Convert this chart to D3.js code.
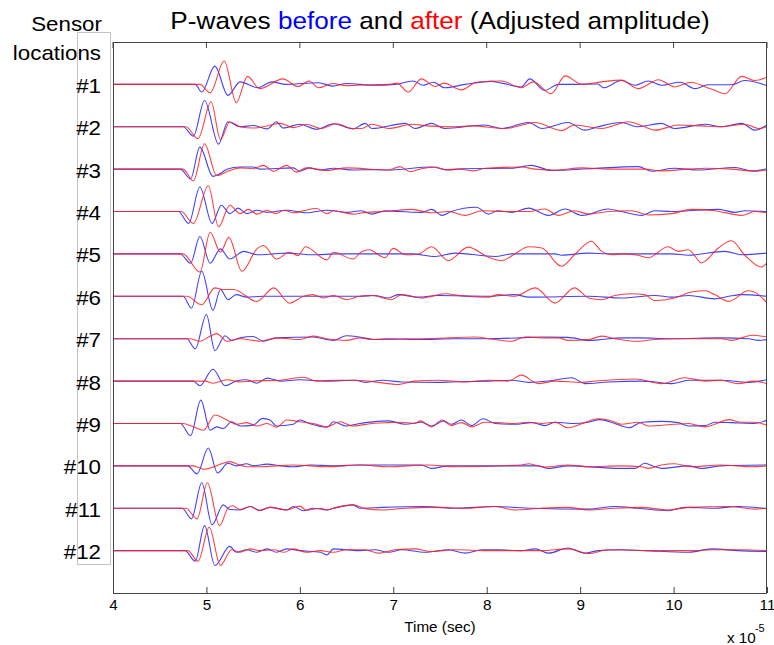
<!DOCTYPE html>
<html>
<head>
<meta charset="utf-8">
<script src="https://cdn.jsdelivr.net/npm/d3@7"></script>
<style>
  body { margin: 0; background: #fff; }
  text { font-family: "Liberation Sans", Arial, Helvetica, sans-serif; fill: #000; }
</style>
</head>
<body>
<div id="chart"></div>
<script>
// sensor names, top to bottom
const sensorLabels = ["#1", "#2", "#3", "#4", "#5", "#6", "#7", "#8", "#9", "#10", "#11", "#12"];
const xTicks = [4, 5, 6, 7, 8, 9, 10, 11];

// [time (x 1e-5 s), amplitude (1 = trace spacing)]
const beforeWaves = [
  [[4,0],[4.88,0],[4.95,-0.18],[5.09,0.43],[5.23,-0.26],[5.36,0.06],[5.55,-0.08],[5.70,0.06],[5.85,0],[6.20,0.04],[6.35,-0.04],[6.50,0.02],[6.77,-0.02],[7.02,0],[7.21,0.08],[7.32,-0.02],[7.43,0.05],[7.55,-0.08],[7.77,0],[8.05,0.07],[8.16,0.03],[8.37,-0.06],[8.46,0.13],[8.62,-0.14],[8.77,0],[8.91,0],[9.19,0.01],[9.25,-0.08],[9.44,0.09],[9.59,-0.02],[9.73,0.08],[9.87,-0.02],[10.07,0.05],[10.23,-0.1],[10.37,-0.01],[10.62,-0.01],[10.76,0.09],[11.0,-0.03]],
  [[4,0],[4.75,0],[4.86,-0.22],[4.98,0.62],[5.13,-0.41],[5.23,0.12],[5.36,0],[5.50,0.03],[5.65,-0.05],[5.75,0.12],[5.82,-0.03],[6.00,0.06],[6.18,-0.06],[6.36,0.07],[6.57,-0.05],[6.70,0.08],[6.77,-0.04],[7.13,0.08],[7.23,-0.04],[7.41,0.08],[7.55,-0.04],[7.98,0.04],[8.16,-0.04],[8.45,0.1],[8.59,-0.04],[8.87,0.1],[9.05,-0.08],[9.19,0],[9.44,0.1],[9.62,0],[9.87,0.08],[10.01,-0.04],[10.34,0.06],[10.51,0],[10.73,0.08],[10.87,-0.08],[11.0,0.04]],
  [[4,0],[4.72,0],[4.83,-0.23],[4.93,0.52],[5.07,-0.17],[5.15,-0.1],[5.22,0],[5.36,0.05],[5.50,0.05],[5.57,0],[5.93,0.03],[6.00,-0.05],[6.10,0.03],[6.22,-0.02],[6.36,0.02],[6.57,-0.02],[6.77,-0.01],[6.95,-0.02],[7.41,0.05],[7.59,-0.02],[7.73,0.01],[8.27,0.02],[8.48,0.09],[8.69,-0.03],[9.09,0.01],[9.62,0.06],[9.77,-0.05],[10.01,0.02],[10.26,-0.02],[10.66,0.04],[10.84,-0.04],[11.0,0.01]],
  [[4,0],[4.70,0],[4.81,-0.28],[4.93,0.58],[5.06,-0.28],[5.16,0.15],[5.25,-0.05],[5.34,0.08],[5.43,-0.05],[5.54,0.03],[5.65,-0.02],[5.86,0.03],[6.07,-0.03],[6.29,0.03],[6.50,-0.02],[6.66,0.02],[6.77,-0.06],[6.91,0.02],[7.05,0],[7.30,-0.02],[7.41,0.05],[7.52,-0.09],[7.62,0],[7.89,0.1],[8.02,-0.06],[8.12,0.02],[8.27,-0.02],[8.45,0.08],[8.66,-0.09],[8.84,0.06],[9.02,-0.09],[9.30,0.06],[9.44,0],[9.66,-0.09],[9.80,0.02],[9.98,0],[10.16,0.02],[10.48,0.05],[10.66,-0.02],[10.76,0.02],[11.0,0]],
  [[4,0],[4.72,0],[4.83,-0.22],[4.93,0.41],[5.04,-0.22],[5.15,0.12],[5.25,-0.12],[5.40,0.06],[5.54,-0.02],[5.72,0],[5.86,0.02],[6.14,-0.02],[6.40,0],[7.20,0],[7.45,-0.06],[7.66,0.02],[8.09,-0.06],[8.27,0],[8.73,0],[8.80,-0.03],[9.09,0.02],[9.30,0],[9.98,0],[10.16,-0.03],[10.55,0.06],[10.73,-0.02],[11.0,0.02]],
  [[4,0],[4.75,0],[4.84,-0.28],[4.95,0.59],[5.07,-0.33],[5.15,0.16],[5.23,-0.08],[5.32,0.04],[5.43,-0.02],[5.60,0],[6.64,0],[6.80,0.02],[6.95,-0.04],[7.05,0.04],[7.27,-0.02],[7.48,0.02],[8.02,0],[8.30,0.04],[8.45,-0.02],[9.09,0],[9.44,-0.04],[9.80,0.02],[9.98,-0.02],[10.16,0.02],[10.44,-0.06],[10.59,0],[10.73,0.04],[11.0,0]],
  [[4,0],[4.79,0],[4.88,-0.24],[5.00,0.57],[5.09,-0.28],[5.20,0.07],[5.27,-0.04],[5.36,0.02],[5.50,0.05],[5.61,-0.06],[5.75,0.02],[6.14,0.04],[6.36,-0.04],[6.50,0.07],[6.64,0.04],[6.80,-0.02],[6.95,0],[7.30,-0.02],[7.66,0],[8.02,0],[8.45,0.03],[8.59,0.04],[8.87,0.03],[9.09,-0.04],[9.23,-0.02],[9.44,0.02],[9.62,0.02],[9.98,0],[10.51,0.02],[10.80,0],[10.91,-0.04],[11.0,-0.02]],
  [[4,0],[4.86,0],[4.93,-0.11],[5.07,0.28],[5.20,-0.11],[5.32,0],[5.43,0.03],[5.54,-0.05],[5.65,0.07],[5.79,0],[6.00,0.03],[6.29,0],[6.59,0.02],[6.70,-0.03],[6.88,0.02],[7.09,-0.02],[7.48,-0.03],[7.62,-0.02],[8.02,0],[8.27,0.02],[8.45,-0.03],[8.66,0],[8.91,0.08],[9.05,-0.06],[9.30,-0.02],[9.66,0],[9.80,-0.02],[9.98,-0.06],[10.16,0.02],[10.51,0.02],[10.80,-0.03],[11.0,0.03]],
  [[4,0],[4.72,0],[4.83,-0.29],[4.94,0.55],[5.04,-0.16],[5.11,-0.08],[5.18,-0.12],[5.27,0.04],[5.36,-0.06],[5.50,-0.04],[5.60,0.12],[5.68,0.08],[5.75,-0.06],[5.93,-0.02],[6.00,0.08],[6.10,0],[6.29,-0.09],[6.36,0.04],[6.50,-0.06],[6.64,0],[6.70,0.02],[6.95,0.06],[7.13,-0.02],[7.30,0.03],[7.41,-0.06],[7.54,0.06],[7.62,-0.02],[7.73,0.08],[7.84,-0.05],[7.96,0.11],[8.09,0],[8.30,-0.02],[8.48,0.02],[8.62,-0.05],[8.73,0.03],[8.91,0],[9.09,0.03],[9.21,0.09],[9.37,0],[9.52,-0.1],[9.66,0.03],[9.87,0.05],[10.05,0.02],[10.16,-0.06],[10.34,-0.05],[10.44,0.03],[10.62,0.02],[10.87,0],[11.0,0.08]],
  [[4,0],[4.80,0],[4.90,-0.19],[5.02,0.42],[5.12,-0.17],[5.23,0.06],[5.32,0],[5.43,0.05],[5.50,0],[5.65,0.04],[5.79,0],[5.93,-0.02],[6.11,0.02],[6.36,0],[6.64,0.02],[7.30,0.02],[7.41,-0.06],[7.59,0],[8.55,0],[8.66,-0.06],[8.87,0],[9.44,-0.06],[9.59,-0.06],[9.69,0.06],[9.80,-0.02],[9.87,-0.06],[10.16,0],[10.30,-0.06],[10.51,0],[11.0,0.02]],
  [[4,0],[4.74,0],[4.84,-0.25],[4.95,0.6],[5.06,-0.39],[5.18,0.08],[5.25,-0.03],[5.36,-0.04],[5.47,0.04],[5.57,-0.05],[5.68,0.02],[5.86,-0.04],[5.93,0.04],[6.04,-0.06],[6.14,0],[6.29,-0.04],[6.36,0],[6.57,0.08],[6.64,0],[6.88,0.02],[7.34,0.04],[7.66,0],[8.09,0.04],[8.48,0],[9.09,-0.02],[9.37,0.04],[9.62,0],[9.94,-0.06],[10.12,0.02],[10.44,0],[10.69,0.04],[11.0,-0.01]],
  [[4,0],[4.77,0],[4.88,-0.25],[4.98,0.59],[5.09,-0.35],[5.25,0.1],[5.32,-0.04],[5.43,0.02],[5.54,-0.04],[5.65,0.04],[5.75,-0.04],[5.86,0.04],[6.00,0],[6.22,-0.04],[6.29,-0.1],[6.36,0.04],[6.50,0.02],[6.64,0],[6.80,0.02],[6.95,-0.04],[7.09,0.02],[7.34,-0.04],[7.59,0.02],[7.77,-0.06],[7.95,0.02],[8.12,0.02],[8.37,0],[8.52,0.04],[8.66,-0.06],[8.87,0.06],[9.05,-0.06],[9.19,0],[9.44,0.02],[9.69,0],[10.16,-0.04],[10.41,0.04],[10.69,0],[11.0,-0.02]]
];

const afterWaves = [
  [[4,0],[4.93,0],[5.04,-0.2],[5.19,0.55],[5.32,-0.43],[5.44,0.19],[5.57,-0.1],[5.82,0.13],[5.98,-0.05],[6.10,0.08],[6.20,-0.08],[6.35,0.02],[6.50,-0.03],[6.70,-0.01],[6.95,0],[7.04,0.03],[7.16,-0.18],[7.30,0.13],[7.45,-0.05],[7.54,0.03],[7.73,-0.13],[7.89,0.05],[8.16,0.08],[8.37,-0.08],[8.50,0.06],[8.69,-0.22],[8.84,0.2],[9.02,0],[9.23,0.06],[9.44,0.1],[9.62,-0.1],[9.84,0.11],[10.01,-0.06],[10.19,0.05],[10.34,-0.06],[10.44,-0.14],[10.55,-0.22],[10.73,0.19],[10.87,0.09],[11.0,0.17]],
  [[4,0],[4.78,0],[4.91,-0.28],[5.05,0.59],[5.15,-0.3],[5.25,0.12],[5.36,0],[5.50,-0.03],[5.65,0.02],[5.79,0.08],[5.93,-0.02],[6.07,0.06],[6.22,-0.04],[6.39,0.07],[6.57,-0.04],[6.66,-0.04],[6.77,0.06],[6.95,-0.04],[7.20,0.06],[7.37,0.02],[7.66,0],[7.84,0.02],[8.20,-0.04],[8.52,0.1],[8.80,-0.09],[8.94,0.04],[9.23,-0.04],[9.52,0.12],[9.69,0],[9.80,-0.08],[10.05,0.04],[10.30,0.02],[10.51,0],[10.76,0.06],[10.91,-0.04],[11.0,0]],
  [[4,0],[4.75,0],[4.86,-0.28],[4.98,0.6],[5.11,-0.15],[5.25,-0.03],[5.36,0.03],[5.50,0.01],[5.61,0.09],[5.72,-0.05],[5.86,0.09],[5.96,-0.07],[6.07,0.03],[6.29,-0.03],[6.50,0.03],[6.95,-0.02],[7.07,0.06],[7.18,-0.06],[7.30,0.01],[7.45,0.05],[7.55,-0.01],[7.70,0],[7.87,-0.04],[7.98,0.02],[8.37,0.05],[8.52,0],[8.73,-0.02],[9.02,0.03],[9.30,0],[9.69,0],[9.87,-0.04],[10.16,0],[10.34,0.02],[10.62,0],[10.87,-0.05],[11.0,-0.02]],
  [[4,0],[4.73,0],[4.86,-0.28],[5.02,0.61],[5.13,-0.36],[5.25,0.15],[5.36,-0.05],[5.45,0.05],[5.54,-0.06],[5.65,0.03],[5.74,-0.05],[5.83,0.03],[5.93,-0.03],[6.04,0.02],[6.18,0.07],[6.29,-0.05],[6.36,0.02],[6.57,-0.06],[6.70,-0.02],[6.91,0],[7.20,0.05],[7.41,-0.03],[7.59,0],[7.77,-0.09],[7.95,0.02],[8.20,0],[8.45,0],[8.62,0.06],[8.77,-0.09],[8.94,0.02],[9.09,-0.06],[9.30,0],[9.55,0.02],[9.73,-0.08],[9.98,-0.05],[10.19,0.05],[10.44,0.02],[10.73,-0.09],[10.87,0],[11.0,-0.03]],
  [[4,0],[4.75,0],[4.93,-0.43],[5.04,0.51],[5.15,0.04],[5.24,0.39],[5.38,-0.41],[5.54,0.12],[5.61,0.2],[5.75,-0.12],[5.89,0.04],[5.98,-0.04],[6.06,0.17],[6.29,-0.14],[6.36,0.04],[6.57,-0.12],[6.66,0.05],[6.75,0.1],[6.84,-0.02],[6.91,-0.09],[7.00,0.13],[7.13,-0.02],[7.27,0],[7.41,0.17],[7.59,-0.16],[7.80,0.16],[8.02,-0.08],[8.16,-0.16],[8.30,0],[8.45,0.17],[8.59,0.14],[8.80,-0.29],[8.94,-0.02],[9.12,0.3],[9.23,0.06],[9.34,-0.02],[9.44,0],[9.62,-0.03],[9.73,-0.09],[9.94,0.17],[10.05,0.06],[10.16,0.1],[10.30,-0.21],[10.48,0.14],[10.62,0.31],[10.76,-0.02],[10.94,-0.31],[11.0,-0.21]],
  [[4,0],[4.79,0],[4.95,-0.2],[5.09,0.2],[5.18,0.16],[5.29,0.16],[5.54,-0.12],[5.72,0.2],[5.89,-0.16],[6.04,0],[6.14,0.04],[6.25,-0.04],[6.36,0.02],[6.50,-0.08],[6.64,0],[6.77,0.02],[6.98,-0.08],[7.09,0.04],[7.30,-0.04],[7.55,0.06],[7.77,0],[8.02,-0.02],[8.12,0.04],[8.30,0],[8.52,0.2],[8.73,-0.16],[8.94,0.2],[9.09,-0.04],[9.23,-0.08],[9.37,0.02],[9.55,0.06],[9.69,0.04],[9.80,-0.1],[10.01,-0.04],[10.19,0.1],[10.34,0.13],[10.44,0.04],[10.59,-0.12],[10.80,0.13],[10.91,0.04],[11.0,-0.16]],
  [[4,0],[4.82,0],[4.93,-0.06],[5.04,0.06],[5.11,0.12],[5.22,-0.06],[5.36,0],[5.50,-0.04],[5.57,-0.06],[5.75,0.02],[6.00,-0.02],[6.14,0.06],[6.29,0],[6.50,-0.04],[6.64,0.02],[6.77,-0.02],[7.30,0],[7.59,0.02],[7.87,0.04],[8.09,-0.02],[8.27,-0.06],[8.41,0.04],[8.59,0.02],[8.77,0.02],[8.87,-0.04],[9.09,-0.02],[9.23,0.06],[9.37,0],[9.62,-0.06],[9.80,-0.02],[10.01,0],[10.51,0],[10.62,-0.04],[10.84,0.08],[11.0,0.04]],
  [[4,0],[4.99,0],[5.07,-0.05],[5.22,0.03],[5.36,-0.02],[5.47,0],[5.79,0.02],[6.04,0.09],[6.18,0],[6.40,0.02],[6.59,0.02],[6.73,0],[7.05,-0.08],[7.23,0],[7.48,0.02],[7.77,-0.02],[8.02,0.02],[8.23,0],[8.37,0.14],[8.55,-0.06],[8.73,0],[9.02,-0.03],[9.16,0],[9.59,0.05],[9.87,-0.06],[10.12,0.08],[10.34,0],[10.51,0.02],[10.69,-0.06],[10.87,0],[11.0,-0.06]],
  [[4,0],[4.75,0],[4.86,-0.08],[4.97,-0.16],[5.09,0.2],[5.22,0.08],[5.32,-0.02],[5.43,0.02],[5.54,-0.06],[5.65,0],[5.75,-0.09],[5.86,0.08],[6.00,0.04],[6.18,-0.02],[6.29,-0.08],[6.43,0.04],[6.57,-0.06],[6.77,0],[6.95,0.02],[7.09,0.03],[7.23,0],[7.29,0.06],[7.41,-0.08],[7.52,0.08],[7.62,-0.05],[7.73,0.02],[7.84,-0.08],[7.98,0.03],[8.12,0.02],[8.30,0],[8.45,0.03],[8.59,0],[8.73,0.03],[8.87,-0.1],[9.05,0.02],[9.19,0.11],[9.34,0.06],[9.44,-0.02],[9.62,0.03],[9.73,-0.06],[10.01,-0.02],[10.16,0],[10.34,-0.08],[10.44,-0.02],[10.59,0.09],[10.73,0.03],[10.87,0.03],[11.0,-0.05]],
  [[4,0],[4.86,0],[4.97,-0.08],[5.07,-0.03],[5.16,0.05],[5.25,0.1],[5.32,0.05],[5.43,-0.02],[5.57,-0.02],[5.93,0.02],[6.29,-0.02],[6.64,0.02],[6.95,-0.02],[7.37,0.02],[7.66,-0.02],[8.37,0.02],[8.45,0.05],[8.62,-0.03],[8.87,0.02],[9.09,-0.02],[9.44,0],[9.66,-0.02],[9.73,-0.06],[9.87,0.02],[10.01,0.05],[10.19,-0.02],[10.51,0.02],[10.84,-0.02],[11.0,0]],
  [[4,0],[4.78,0],[4.90,-0.25],[5.01,0.6],[5.14,-0.41],[5.23,0],[5.28,0.06],[5.36,-0.03],[5.47,0.04],[5.57,-0.06],[5.68,0.02],[5.86,-0.04],[6.00,0.05],[6.07,-0.05],[6.22,0],[6.29,-0.04],[6.36,0],[6.57,0.08],[6.70,-0.01],[6.88,-0.04],[7.13,0],[7.41,0.02],[7.77,0],[8.09,0.04],[8.30,-0.04],[8.59,0],[8.87,0.02],[9.09,-0.04],[9.37,0],[9.66,0.02],[9.94,-0.04],[10.16,0.02],[10.59,0.04],[10.87,-0.02],[11.0,0]],
  [[4,0],[4.80,0],[4.91,-0.25],[5.03,0.55],[5.15,-0.35],[5.27,0.02],[5.36,-0.04],[5.47,0.04],[5.57,0],[5.72,0.02],[5.83,-0.04],[5.93,0.04],[6.07,-0.04],[6.22,0],[6.36,-0.04],[6.50,0.02],[6.70,0.02],[6.84,-0.06],[7.02,0.02],[7.23,0.04],[7.41,-0.02],[7.66,0.02],[8.02,0],[8.59,0],[8.87,0.04],[9.09,-0.07],[9.30,0.02],[9.80,0],[10.16,0],[10.44,0.02],[10.73,0.02],[11.0,0]]
];

const width = 774, height = 645;
const margin = { top: 42, right: 7, bottom: 52, left: 113 };
const stretch = 1.09; // text in the figure is a bit wider than plain Arial

const svg = d3.select("#chart").append("svg")
  .attr("width", width)
  .attr("height", height);

const x = d3.scaleLinear().domain([4, 11]).range([margin.left, width - margin.right]);
const y = d3.scaleLinear().domain([0, sensorLabels.length + 1]).range([height - margin.bottom, margin.top]);

function label(x0, y0, txt, size, anchor) {
  return svg.append("text")
    .attr("transform", `translate(${x0},${y0}) scale(${stretch},1)`)
    .attr("text-anchor", anchor)
    .style("font-size", size + "px")
    .text(txt);
}

// label column box
svg.append("rect")
  .attr("x", 77.5).attr("y", 32.5)
  .attr("width", 33).attr("height", 532)
  .attr("fill", "none")
  .attr("stroke", "#c4c4c4");

label(102, 31, "Sensor", 20.5, "end");
label(101, 60, "locations", 20.5, "end");
sensorLabels.forEach((s, i) => {
  label(101, y(sensorLabels.length - i) + 8.5, s, 20.5, "end");
});

// title with coloured words
const title = svg.append("text")
  .attr("transform", `translate(${(x.range()[0] + x.range()[1]) / 2},29) scale(${stretch},1)`)
  .attr("text-anchor", "middle")
  .style("font-size", "24px");
title.append("tspan").text("P-waves ");
title.append("tspan").style("fill", "#0000ff").text("before");
title.append("tspan").text(" and ");
title.append("tspan").style("fill", "#ff0000").text("after");
title.append("tspan").text(" (Adjusted amplitude)");

// clip for traces
svg.append("clipPath").attr("id", "plot-clip")
  .append("rect")
  .attr("x", x.range()[0]).attr("y", margin.top)
  .attr("width", x.range()[1] - x.range()[0])
  .attr("height", height - margin.bottom - margin.top);

const traces = svg.append("g").attr("clip-path", "url(#plot-clip)");

sensorLabels.forEach((s, i) => {
  const level = sensorLabels.length - i;
  const line = d3.line()
    .x(d => x(d[0]))
    .y(d => y(level + d[1]))
    .curve(d3.curveMonotoneX);
  traces.append("path")
    .datum(beforeWaves[i])
    .attr("d", line)
    .attr("fill", "none")
    .attr("stroke", "#2020ff")
    .attr("stroke-width", 1.1)
    .attr("stroke-opacity", 0.85);
  traces.append("path")
    .datum(afterWaves[i])
    .attr("d", line)
    .attr("fill", "none")
    .attr("stroke", "#ff2020")
    .attr("stroke-width", 1.1)
    .attr("stroke-opacity", 0.85);
});

// x axis, ticks pointing in
const xAxis = d3.axisBottom(x)
  .tickValues(xTicks)
  .tickFormat(d3.format("d"))
  .tickSizeInner(-6)
  .tickSizeOuter(0)
  .tickPadding(7);

const gx = svg.append("g")
  .attr("transform", `translate(0,${height - margin.bottom})`)
  .call(xAxis);
gx.select(".domain").remove();
gx.selectAll(".tick line").attr("stroke", "#444");
gx.selectAll(".tick text")
  .attr("transform", `scale(${stretch},1)`)
  .style("font-size", "14px")
  .style("font-family", "'Liberation Sans', Arial, sans-serif")
  .attr("fill", "#000");

// mirrored ticks on top
svg.append("g")
  .attr("transform", `translate(0,${margin.top})`)
  .selectAll("line")
  .data(xTicks)
  .join("line")
  .attr("x1", d => x(d)).attr("x2", d => x(d))
  .attr("y1", 0).attr("y2", 6)
  .attr("stroke", "#444");

// axes box
svg.append("rect")
  .attr("x", x.range()[0] + 0.5).attr("y", margin.top + 0.5)
  .attr("width", x.range()[1] - x.range()[0] - 1)
  .attr("height", height - margin.bottom - margin.top)
  .attr("fill", "none")
  .attr("stroke", "#444");

label((x.range()[0] + x.range()[1]) / 2, 632, "Time (sec)", 14, "middle");
label(727, 643, "x 10", 14, "start");
label(755, 632, "-5", 10, "start");
</script>
</body>
</html>
